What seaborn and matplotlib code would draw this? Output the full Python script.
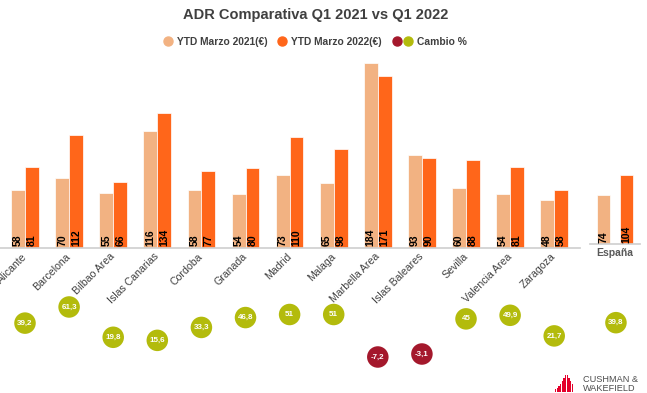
import pandas as pd
import seaborn as sns
import matplotlib.pyplot as plt
import matplotlib.transforms as mtransforms
from matplotlib.lines import Line2D
from matplotlib.legend_handler import HandlerBase

# Data
ciudades = ['Alicante', 'Barcelona', 'Bilbao Area', 'Islas Canarias', 'Cordoba', 'Granada',
            'Madrid', 'Malaga', 'Marbella Area', 'Islas Baleares', 'Sevilla', 'Valencia Area',
            'Zaragoza']
adr_2021 = [58, 70, 55, 116, 58, 54, 73, 65, 184, 93, 60, 54, 48]
adr_2022 = [81, 112, 66, 134, 77, 80, 110, 98, 171, 90, 88, 81, 58]
espana_2021 = 74
espana_2022 = 104
cambio = [39.2, 61.3, 19.8, 15.6, 33.3, 46.8, 51, 51, -7.2, -3.1, 45, 49.9, 21.7]
cambio_espana = 39.8

serie_21 = 'YTD Marzo 2021(€)'
serie_22 = 'YTD Marzo 2022(€)'
logo_heights = [3, 4, 6, 8, 11, 14, 17, 17, 14, 11, 8]

C_LIGHT = '#f2b282'
C_DARK = '#ff661a'
C_GREEN = '#b3bb0c'
C_RED = '#a4182c'
C_TEXT = '#404040'

sns.set_theme(style='white')
plt.rcParams['font.family'] = ['Liberation Sans', 'DejaVu Sans']

W, H = 647, 393
fig = plt.figure(figsize=(W / 100, H / 100), dpi=100)


def px_axes(x0, y0, x1, y1):
    return fig.add_axes([x0 / W, 1 - y1 / H, (x1 - x0) / W, (y1 - y0) / H])


def label_bars(ax):
    for cont in ax.containers:
        for bar in cont:
            ax.text(bar.get_x() + bar.get_width() / 2, 2, f"{bar.get_height():.0f}",
                    rotation=90, ha='center', va='bottom', fontsize=7.5,
                    fontweight='bold', color='black')


class TwoDots(HandlerBase):
    # red + green dot for the "Cambio %" entry
    def create_artists(self, legend, orig, x0, y0, width, height, fontsize, trans):
        yc = y0 + height / 2
        xc = x0 + width / 2
        red = Line2D([xc - 8], [yc], marker='o', ls='', color=C_RED, markersize=6.5,
                     transform=trans)
        green = Line2D([xc], [yc], marker='o', ls='', color=C_GREEN, markersize=6.5,
                       transform=trans)
        return [red, green]


# Main bars
df = pd.DataFrame({
    'ciudad': ciudades * 2,
    'serie': [serie_21] * len(ciudades) + [serie_22] * len(ciudades),
    'valor': adr_2021 + adr_2022,
})
ax = px_axes(0, 58, 580, 248)
sns.barplot(data=df, x='ciudad', y='valor', hue='serie', order=ciudades,
            hue_order=[serie_21, serie_22], palette=[C_LIGHT, C_DARK], saturation=1,
            width=0.63, edgecolor='white', linewidth=0.5, legend=False, ax=ax)
label_bars(ax)
ax.set_xlim(-0.567, 12.585)
ax.set_ylim(0, 189)
ax.set_xlabel('')
ax.set_ylabel('')
ax.set_yticks([])
ax.set_xticks(range(len(ciudades)))
ax.set_xticklabels(ciudades, rotation=45, ha='right', va='center',
                   rotation_mode='anchor', fontsize=7.6, color=C_TEXT)
shift = mtransforms.ScaledTranslation(4 / 100, 1 / 100, fig.dpi_scale_trans)
for t in ax.get_xticklabels():
    t.set_transform(t.get_transform() + shift)
ax.tick_params(axis='x', length=0, pad=5)
sns.despine(ax=ax, left=True)
ax.spines['bottom'].set_color('#d0d0d0')
ax.patch.set_alpha(0)

# España
df_es = pd.DataFrame({'ciudad': ['España', 'España'],
                      'serie': [serie_21, serie_22],
                      'valor': [espana_2021, espana_2022]})
ax_es = px_axes(590, 114, 640, 244)
sns.barplot(data=df_es, x='ciudad', y='valor', hue='serie',
            hue_order=[serie_21, serie_22], palette=[C_LIGHT, C_DARK], saturation=1,
            width=0.92, gap=0.41, edgecolor='white', linewidth=0.5,
            legend=False, ax=ax_es)
label_bars(ax_es)
ax_es.set_xlim(-0.5, 0.5)
ax_es.set_ylim(0, 197)
ax_es.set_xlabel('')
ax_es.set_ylabel('')
ax_es.set_yticks([])
ax_es.tick_params(axis='x', length=0, pad=3)
for t in ax_es.get_xticklabels():
    t.set_fontweight('bold')
    t.set_fontsize(7.5)
    t.set_color('#595959')
sns.despine(ax=ax_es, left=True)
ax_es.spines['bottom'].set_color('#d0d0d0')
ax_es.patch.set_alpha(0)

# Cambio % bubbles
vals = cambio + [cambio_espana]
df_b = pd.DataFrame({
    'pos': list(range(len(ciudades))) + [13.4],
    'cambio': vals,
    'signo': ['neg' if v < 0 else 'pos' for v in vals],
})
ax_b = px_axes(0, 295, 647, 370)
sns.scatterplot(data=df_b, x='pos', y='cambio', hue='signo',
                palette={'pos': C_GREEN, 'neg': C_RED}, s=240,
                edgecolor='none', legend=False, ax=ax_b)
for p, v in zip(df_b['pos'], df_b['cambio']):
    ax_b.text(p, v, f"{v:g}".replace('.', ','), ha='center', va='center',
              fontsize=5.8, fontweight='bold', color='white')
ax_b.set_xlim(-0.567, 14.104)
ax_b.set_ylim(-25, 77.7)
ax_b.axis('off')

# Title and legends
fig.text(316 / W, 1 - 15 / H, 'ADR Comparativa Q1 2021 vs Q1 2022', ha='center',
         va='center', fontsize=10.5, fontweight='bold', color=C_TEXT)
leg_kw = dict(loc='center left', frameon=False, borderpad=0, borderaxespad=0,
              handlelength=1.0, handletextpad=0.35, prop={'size': 7.4, 'weight': 'bold'})
series_handles = [
    Line2D([], [], marker='o', ls='', color=C_LIGHT, markersize=6.5),
    Line2D([], [], marker='o', ls='', color=C_DARK, markersize=6.5),
]
leg1 = fig.legend(series_handles, [serie_21, serie_22], ncol=2, columnspacing=0.9,
                  bbox_to_anchor=(163 / W, 1 - 42 / H), **leg_kw)
cambio_handle = Line2D([], [], marker='o', ls='', color=C_GREEN, markersize=6.5)
leg2 = fig.legend([cambio_handle], ['Cambio %'], bbox_to_anchor=(403 / W, 1 - 42 / H),
                  handler_map={cambio_handle: TwoDots()}, **leg_kw)
for leg in (leg1, leg2):
    for t in leg.get_texts():
        t.set_color(C_TEXT)

# Logo
ax_logo = px_axes(555, 375, 573, 392)
ax_logo.bar(range(len(logo_heights)), logo_heights, width=0.8, color='#e4002b',
            linewidth=0)
ax_logo.set_xlim(-0.5, len(logo_heights) - 0.5)
ax_logo.set_ylim(0, max(logo_heights))
ax_logo.axis('off')
fig.text(583 / W, 1 - 384 / H, 'CUSHMAN &\nWAKEFIELD', ha='left', va='center',
         fontsize=6.6, color='#4d4d4d', linespacing=0.95)

fig.savefig('out.png', dpi=100)
